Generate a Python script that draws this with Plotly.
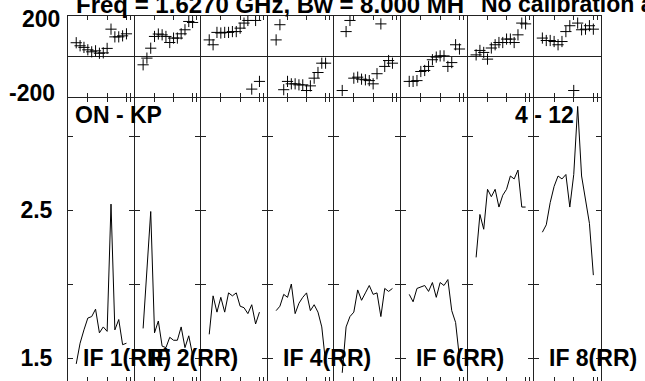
import plotly.graph_objects as go

# ---------------- data ----------------
channels = list(range(1, 15))

amp_if1 = [1.46, 1.60, 1.69, 1.77, 1.78, 1.83, 1.67, 1.71, 1.68, 2.54, 1.69, 1.76, 1.59, 1.60]
amp_if2 = [1.70, 2.10, 2.49, 1.67, 1.75, 1.58, 1.57, 1.64, 1.62, 1.62, 1.71, 1.57, 1.65, 1.52]
amp_if3 = [1.66, 1.92, 1.81, 1.91, 1.81, 1.94, 1.92, 1.94, 1.85, 1.84, 1.80, 1.86, 1.73, 1.81]
amp_if4 = [1.82, 1.85, 1.93, 1.91, 2.00, 1.80, 1.87, 1.91, 1.94, 1.82, 1.86, 1.81, 1.71, 1.47]
amp_if5 = [1.40, 1.71, 1.78, 1.81, 1.96, 1.89, 1.94, 1.99, 1.93, 1.94, 1.78, 1.97, 1.95, 1.97]
amp_if6 = [1.93, 1.88, 1.97, 1.98, 1.99, 1.95, 2.01, 1.91, 2.01, 1.99, 2.03, 1.82, 1.74, 1.50]
amp_if7 = [2.18, 2.47, 2.37, 2.64, 2.59, 2.64, 2.52, 2.60, 2.64, 2.73, 2.71, 2.77, 2.52, 2.52]
amp_if8 = [2.35, 2.40, 2.55, 2.66, 2.73, 2.71, 2.74, 2.52, 2.74, 3.20, 2.73, 2.57, 2.41, 2.06]

ph_if1 = [68, 53, 45, 33, 23, 28, 16, 18, 40, 135, 97, 97, 102, 112]
ph_if2 = [-41, -8, 41, 99, 111, 107, 99, 69, 91, 91, 112, 132, 173, 168]
ph_if3 = [82, 58, 119, 116, 119, 119, 123, 123, 140, 165, 178, -161, 178, -123]
ph_if4 = [82, 157, -164, -123, -135, -135, -140, -140, -168, -145, -107, -79, -33, -33]
ph_if5 = [-168, 123, 178, -107, -102, -112, -115, -119, -135, -85, 161, -49, -20, -33]
ph_if6 = [-123, -123, -119, -74, -69, -49, -16, -3, 3, 3, -49, -30, 58, 37]
ph_if7 = [8, 30, 20, -13, 42, 58, 69, 69, 86, 86, 69, 107, 165, 161]
ph_if8 = [91, 79, 79, 74, 58, 74, 123, 152, -168, 165, 132, 135, 152, 135]

amps = [amp_if1, amp_if2, amp_if3, amp_if4, amp_if5, amp_if6, amp_if7, amp_if8]
phases = [ph_if1, ph_if2, ph_if3, ph_if4, ph_if5, ph_if6, ph_if7, ph_if8]
panel_labels = ["IF 1(RR)", "IF 2(RR)", "", "IF 4(RR)", "", "IF 6(RR)", "", "IF 8(RR)"]

amp_ticks = [1.5, 2.0, 2.5, 3.0]
amp_ticktext = ["1.5", "", "2.5", ""]
chan_ticks = [4, 9, 14, 15]

title_text = "Freq = 1.6270 GHz, Bw = 8.000 MH"
title_text2 = "No calibration applied"
source_text = "ON - KP"
baseline_text = "4 - 12"

# ---------------- layout geometry ----------------
W, H = 645, 381
bounds = [68, 135, 201, 268, 334, 401, 468, 534, 601]
ph_top, ph_bot, amp_top = 16.0, 97.0, 98.0
x_lo, x_hi = -1.13, 15.95
amp_lo, amp_hi = 1.3446, 3.257
FS = 23
FS_T = 24
LC = "#222222"

FONT = "Liberation Sans, Arial, sans-serif"
fig = go.Figure()
layout = {}

def ax(name, k):
    return name if k == 1 else f"{name}{k}"

for i in range(8):
    kp, ka = 2 * i + 1, 2 * i + 2
    right = bounds[i + 1] - (1 if i < 7 else 0)
    dom = [bounds[i] / W, right / W]
    common_x = dict(domain=dom, range=[x_lo, x_hi], tickvals=chan_ticks, ticks="inside",
                    ticklen=4, tickcolor=LC, mirror="ticks", showline=True,
                    linecolor=LC, linewidth=1, showticklabels=False,
                    showgrid=False, zeroline=False)
    layout[ax("xaxis", kp)] = dict(common_x, anchor=ax("y", kp))
    layout[ax("xaxis", ka)] = dict(common_x, anchor=ax("y", ka))
    layout[ax("yaxis", kp)] = dict(domain=[1 - ph_bot / H, 1 - ph_top / H], anchor=ax("x", kp),
                                   range=[-200, 200], showline=True, mirror=True,
                                   linecolor=LC, ticks="", showticklabels=False,
                                   showgrid=False, zeroline=True, zerolinecolor=LC,
                                   zerolinewidth=1)
    layout[ax("yaxis", ka)] = dict(domain=[0, 1 - amp_top / H], anchor=ax("x", ka),
                                   range=[amp_lo, amp_hi], tickvals=amp_ticks,
                                   ticktext=amp_ticktext, ticks="inside", ticklen=5,
                                   tickcolor=LC, mirror="ticks", showline=True,
                                   linecolor=LC, showgrid=False, zeroline=False,
                                   showticklabels=(i == 0), ticklabelstandoff=10,
                                   tickfont=dict(family=FONT, size=FS, color="black",
                                                 weight="bold"))

    fig.add_trace(go.Scatter(x=channels, y=phases[i], mode="markers",
                             marker=dict(symbol="cross-thin", size=8,
                                         line=dict(color="black", width=1)),
                             xaxis=ax("x", kp), yaxis=ax("y", kp), showlegend=False,
                             hoverinfo="skip"))
    fig.add_trace(go.Scatter(x=channels, y=amps[i], mode="lines",
                             line=dict(color="black", width=1),
                             xaxis=ax("x", ka), yaxis=ax("y", ka), showlegend=False,
                             hoverinfo="skip"))

annotations = []
bold = dict(family=FONT, size=FS, color="black", weight="bold")
bold_t = dict(family=FONT, size=FS_T, color="black", weight="bold")
annotations.append(dict(text="200", x=62 / W, xref="paper", xanchor="right",
                        y=200, yref="y", yanchor="middle", yshift=-3,
                        showarrow=False, font=bold))
annotations.append(dict(text="-200", x=57 / W, xref="paper", xanchor="right",
                        y=-200, yref="y", yanchor="middle", yshift=4,
                        showarrow=False, font=bold))
annotations.append(dict(text=title_text, x=74 / W, xref="paper", xanchor="left",
                        y=1 - 4 / H, yref="paper", yanchor="middle",
                        showarrow=False, font=bold_t))
annotations.append(dict(text=title_text2, x=479 / W, xref="paper", xanchor="left",
                        y=1 - 4 / H, yref="paper", yanchor="middle",
                        showarrow=False, font=bold))
annotations.append(dict(text=source_text, x=73 / W, xref="paper", xanchor="left",
                        y=1 - 115 / H, yref="paper", yanchor="middle",
                        showarrow=False, font=bold))
annotations.append(dict(text=baseline_text, x=513 / W, xref="paper", xanchor="left",
                        y=1 - 115 / H, yref="paper", yanchor="middle",
                        showarrow=False, font=bold))
for i, lab in enumerate(panel_labels):
    if lab:
        annotations.append(dict(text=lab, x=(bounds[i] + 13) / W, xref="paper",
                                xanchor="left", y=1.5, yref="y2", yanchor="middle",
                                showarrow=False, font=bold))

fig.update_layout(**layout)
fig.update_layout(width=W, height=H, margin=dict(l=0, r=0, t=0, b=0),
                  paper_bgcolor="white", plot_bgcolor="white",
                  annotations=annotations, showlegend=False)
fig.write_html("out.html", config={"displayModeBar": False},
               post_script="document.body.style.margin='0';document.body.style.overflow='hidden';")
